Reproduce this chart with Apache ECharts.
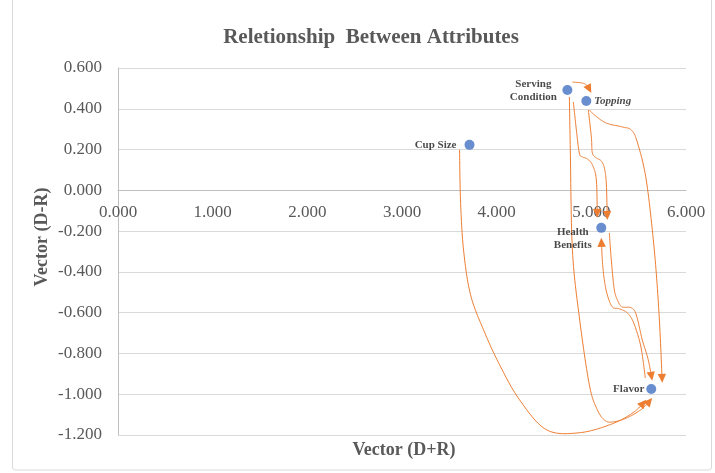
<!DOCTYPE html>
<html>
<head>
<meta charset="utf-8">
<script src="https://cdn.jsdelivr.net/npm/echarts@6/dist/echarts.min.js"></script>
<style>
  html, body { margin: 0; padding: 0; background: #ffffff; }
  #chart { width: 715px; height: 473px; }
</style>
</head>
<body>
<div id="chart"></div>
<script>
// Attribute positions on the (D+R, D-R) plane
const attributes = ['Serving Condition', 'Topping', 'Cup Size', 'Health Benefits', 'Flavor'];
const vectorDPlusR = [4.747, 4.947, 3.713, 5.105, 5.633];
const vectorDMinusR = [0.492, 0.438, 0.223, -0.184, -0.974];

// Axis tick values
const xTickValues = [0, 1, 2, 3, 4, 5, 6];
const yTickValues = [-1.2, -1.0, -0.8, -0.6, -0.4, -0.2, 0, 0.2, 0.4, 0.6];

// Influence arrows between attributes: waypoints in data units (D+R, D-R)
const linkFrom = ['Serving Condition', 'Serving Condition', 'Topping', 'Topping', 'Health Benefits', 'Flavor', 'Serving Condition', 'Cup Size'];
const linkTo   = ['Topping', 'Health Benefits', 'Health Benefits', 'Flavor', 'Flavor', 'Health Benefits', 'Flavor', 'Flavor'];
const linkPaths = [
  [[4.800, 0.531], [4.905, 0.526], [4.958, 0.512], [5.000, 0.477]],
  [[4.810, 0.433], [4.842, 0.296], [4.873, 0.183], [4.905, 0.164], [4.958, 0.154], [5.011, 0.125], [5.053, 0.051], [5.063, -0.135]],
  [[4.968, 0.394], [5.000, 0.262], [5.011, 0.183], [5.053, 0.159], [5.105, 0.144], [5.137, 0.110], [5.158, 0.036], [5.169, -0.145]],
  [[4.979, 0.394], [5.032, 0.370], [5.158, 0.330], [5.327, 0.311], [5.422, 0.296], [5.485, 0.237], [5.580, 0.051], [5.665, -0.292], [5.717, -0.621], [5.749, -0.944]],
  [[5.190, -0.209], [5.211, -0.341], [5.243, -0.488], [5.285, -0.547], [5.327, -0.572], [5.422, -0.576], [5.475, -0.611], [5.538, -0.733], [5.601, -0.831], [5.643, -0.934]],
  [[5.570, -0.920], [5.538, -0.807], [5.506, -0.733], [5.443, -0.645], [5.380, -0.601], [5.295, -0.581], [5.222, -0.572], [5.169, -0.513], [5.137, -0.439], [5.116, -0.341], [5.105, -0.233]],
  [[4.768, 0.458], [4.778, 0.198], [4.800, -0.292], [4.873, -0.621], [4.979, -0.954], [5.063, -1.076], [5.148, -1.130], [5.243, -1.135], [5.380, -1.115], [5.538, -1.071], [5.643, -1.018]],
  [[3.608, 0.198], [3.618, -0.047], [3.650, -0.292], [3.724, -0.512], [3.861, -0.684], [4.030, -0.855], [4.241, -1.027], [4.525, -1.174], [4.873, -1.189], [5.222, -1.145], [5.454, -1.086], [5.580, -1.027]]
];

const SERIF = "'Liberation Serif', 'Times New Roman', serif";
const GREY_TEXT = '#595959';
const ARROW = '#ED7D31';

// Catmull-Rom spline through pixel points
function smoothThrough(pts, steps) {
  if (pts.length < 3) return pts.slice();
  const out = [pts[0]];
  for (let i = 0; i < pts.length - 1; i++) {
    const p0 = pts[Math.max(i - 1, 0)], p1 = pts[i], p2 = pts[i + 1], p3 = pts[Math.min(i + 2, pts.length - 1)];
    for (let s = 1; s <= steps; s++) {
      const t = s / steps, t2 = t * t, t3 = t2 * t;
      const f = (a, b, c, d) => 0.5 * ((2 * b) + (-a + c) * t + (2 * a - 5 * b + 4 * c - d) * t2 + (-a + 3 * b - 3 * c + d) * t3);
      out.push([f(p0[0], p1[0], p2[0], p3[0]), f(p0[1], p1[1], p2[1], p3[1])]);
    }
  }
  return out;
}

function renderLink(params, api) {
  const path = linkPaths[params.dataIndex].map(p => api.coord(p));
  const curve = smoothThrough(path, 14);
  const tip = curve[curve.length - 1];
  let k = curve.length - 2;
  while (k > 0 && Math.hypot(curve[k][0] - tip[0], curve[k][1] - tip[1]) < 7) k--;
  const back = curve[k];
  const dx = tip[0] - back[0], dy = tip[1] - back[1];
  const L = Math.hypot(dx, dy) || 1;
  const ux = dx / L, uy = dy / L;
  const headLen = 9, headHalf = 4.2;
  const bx = tip[0] - ux * headLen, by = tip[1] - uy * headLen;
  const head = [[tip[0], tip[1]], [bx - uy * headHalf, by + ux * headHalf], [bx + uy * headHalf, by - ux * headHalf]];
  // stop the stroke where the arrow head begins
  const line = curve.filter(p => Math.hypot(p[0] - tip[0], p[1] - tip[1]) > headLen - 1);
  line.push([bx + ux, by + uy]);
  return {
    type: 'group',
    children: [
      { type: 'polyline', shape: { points: line }, style: { stroke: ARROW, lineWidth: 1, fill: null } },
      { type: 'polygon', shape: { points: head }, style: { fill: ARROW, stroke: null } }
    ]
  };
}

const labelBase = {
  show: true,
  fontFamily: SERIF,
  fontWeight: 'bold',
  fontSize: 11,
  lineHeight: 13,
  color: '#1a1a1a'
};
const labelStyles = {
  'Serving Condition': { position: [-29, 5.5], align: 'center', verticalAlign: 'middle', formatter: 'Serving\nCondition' },
  'Topping': { position: 'right', distance: 3, fontStyle: 'italic' },
  'Cup Size': { position: 'left', distance: 8 },
  'Health Benefits': { position: [-23.5, 15.5], align: 'center', verticalAlign: 'middle', formatter: 'Health\nBenefits' },
  'Flavor': { position: 'left', distance: 2 }
};

const points = attributes.map((name, i) => ({
  name: name,
  value: [vectorDPlusR[i], vectorDMinusR[i]],
  label: Object.assign({}, labelBase, { formatter: name }, labelStyles[name])
}));

const GRID_TOP = 68, GRID_BOTTOM = 38, CHART_H = 473;
const plotH = CHART_H - GRID_TOP - GRID_BOTTOM;
const yMin = yTickValues[0], yMax = yTickValues[yTickValues.length - 1];
// horizontal axis sits on the D-R = 0 line
const zeroLift = plotH * (0 - yMin) / (yMax - yMin);

const chart = echarts.init(document.getElementById('chart'), null, { renderer: 'canvas' });
chart.setOption({
  animation: false,
  backgroundColor: '#ffffff',
  title: {
    text: 'Reletionship  Between Attributes',
    left: 371,
    top: 27,
    padding: 0,
    textAlign: 'center',
    textStyle: { fontFamily: SERIF, fontWeight: 'bold', fontSize: 21, color: GREY_TEXT }
  },
  grid: { left: 118, right: 29, top: GRID_TOP, bottom: GRID_BOTTOM, containLabel: false },
  xAxis: {
    type: 'value',
    position: 'bottom',
    offset: -zeroLift,
    min: xTickValues[0],
    max: xTickValues[xTickValues.length - 1],
    interval: xTickValues[1] - xTickValues[0],
    axisLine: { onZero: false, lineStyle: { color: '#BFBFBF', width: 1 } },
    axisTick: { show: false },
    splitLine: { show: false },
    axisLabel: {
      margin: 14,
      fontFamily: SERIF, fontSize: 17, color: GREY_TEXT,
      formatter: v => v.toFixed(3)
    }
  },
  yAxis: {
    type: 'value',
    min: yMin,
    max: yMax,
    interval: 0.2,
    axisLine: { show: true, onZero: false, lineStyle: { color: '#BFBFBF', width: 1 } },
    axisTick: { show: false },
    splitLine: { show: true, lineStyle: { color: '#D9D9D9', width: 1 } },
    axisLabel: {
      margin: 16,
      fontFamily: SERIF, fontSize: 17, color: GREY_TEXT,
      formatter: v => v.toFixed(3)
    }
  },
  graphic: [
    {
      type: 'rect', z: -10, silent: true,
      shape: { x: 12.5, y: -5, width: 699, height: 475, r: 3 },
      style: { fill: null, stroke: '#D9D9D9', lineWidth: 1 }
    },
    {
      type: 'text', silent: true,
      x: 404, y: 450,
      style: { text: 'Vector (D+R)', align: 'center', verticalAlign: 'middle', font: "bold 18px 'Liberation Serif', 'Times New Roman', serif", fill: GREY_TEXT }
    },
    {
      type: 'text', silent: true,
      x: 42, y: 237, rotation: Math.PI / 2,
      style: { text: 'Vector (D-R)', align: 'center', verticalAlign: 'middle', font: "bold 18px 'Liberation Serif', 'Times New Roman', serif", fill: GREY_TEXT }
    }
  ],
  series: [
    {
      type: 'custom',
      name: 'influence',
      silent: true,
      clip: false,
      z: 2,
      renderItem: renderLink,
      encode: { x: 0, y: 1 },
      data: linkPaths.map((p, i) => ({ name: linkFrom[i] + ' → ' + linkTo[i], value: p[0] }))
    },
    {
      type: 'scatter',
      name: 'attributes',
      z: 5,
      symbol: 'circle',
      symbolSize: 10,
      itemStyle: { color: '#4472C4' },
      data: points
    }
  ]
});
</script>
</body>
</html>
